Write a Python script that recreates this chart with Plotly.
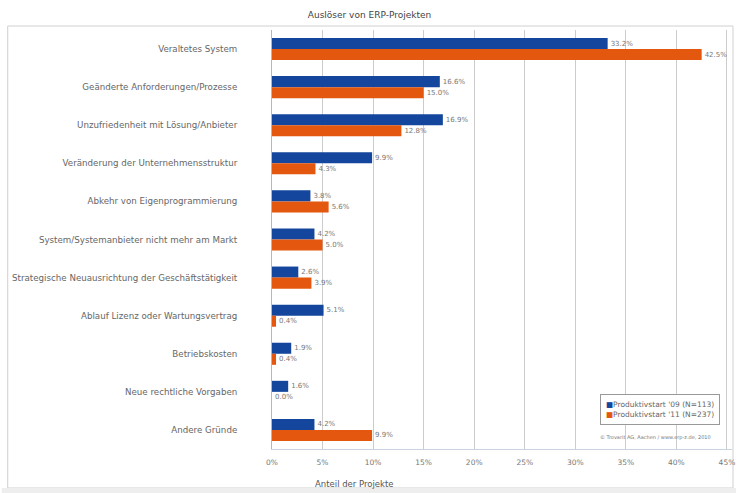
import plotly.graph_objects as go

categories = [
    "Veraltetes System",
    "Geänderte Anforderungen/Prozesse",
    "Unzufriedenheit mit Lösung/Anbieter",
    "Veränderung der Unternehmensstruktur",
    "Abkehr von Eigenprogrammierung",
    "System/Systemanbieter nicht mehr am Markt",
    "Strategische Neuausrichtung der Geschäftstätigkeit",
    "Ablauf Lizenz oder Wartungsvertrag",
    "Betriebskosten",
    "Neue rechtliche Vorgaben",
    "Andere Gründe",
]
series_09 = [33.2, 16.6, 16.9, 9.9, 3.8, 4.2, 2.6, 5.1, 1.9, 1.6, 4.2]
series_11 = [42.5, 15.0, 12.8, 4.3, 5.6, 5.0, 3.9, 0.4, 0.4, 0.0, 9.9]
name_09 = "Produktivstart '09 (N=113)"
name_11 = "Produktivstart '11 (N=237)"
tick_vals = [0, 5, 10, 15, 20, 25, 30, 35, 40, 45]
tick_text = [f"{v}%" for v in tick_vals]

COL_09 = "#14469E"
COL_11 = "#E4570F"

W, H = 739, 493
L, R, T, B = 272, 4, 30, 44
PW, PH = W - L - R, H - T - B


def px_x(x):
    return (x - L) / PW


def px_y(y):
    return (H - B - y) / PH


fig = go.Figure()
for vals, name, col in [(series_09, name_09, COL_09), (series_11, name_11, COL_11)]:
    fig.add_trace(go.Bar(
        y=categories, x=vals, orientation="h", name=name,
        marker=dict(color=col, line=dict(width=0)),
        text=[f"{v:.1f}%" for v in vals], textposition="outside",
        textfont=dict(size=7, color="#777777", family="DejaVu Sans"),
        cliponaxis=False, showlegend=False,
    ))

fig.update_layout(
    width=W, height=H,
    margin=dict(l=L, r=R, t=T, b=B),
    paper_bgcolor="white", plot_bgcolor="white",
    barmode="group", bargap=0.42, bargroupgap=0,
    font=dict(family="DejaVu Sans", color="#555555"),
    title=dict(text="Auslöser von ERP-Projekten", x=0.5, xanchor="center",
               y=1 - 15 / H, yanchor="middle",
               font=dict(size=9, color="#444444")),
    showlegend=False,
    xaxis=dict(range=[0, 45.5], tickmode="array", tickvals=tick_vals, ticktext=tick_text,
               showgrid=True, gridcolor="#cccccc", gridwidth=1,
               zeroline=False, showline=True, linecolor="#c8d4e0",
               tickfont=dict(size=7.5, color="#777777"), ticks="",
               ticklabelstandoff=6),
    yaxis=dict(autorange="reversed", showgrid=False, zeroline=False,
               showline=True, linecolor="#b0b8c8",
               tickfont=dict(size=8.7, color="#666666"), ticks="",
               ticklabelstandoff=32),
)

# legend (drawn as an annotation box)
legend_text = (f"<span style='color:{COL_09}'>■</span>{name_09}<br>"
               f"<span style='color:{COL_11}'>■</span>{name_11}")
fig.add_annotation(text=legend_text, xref="paper", yref="paper",
                   x=px_x(723), y=px_y(425), xanchor="right", yanchor="bottom",
                   align="left", showarrow=False, bgcolor="white",
                   bordercolor="#999999", borderwidth=1, borderpad=5,
                   font=dict(size=7.5, color="#666666"))

# x axis title
fig.add_annotation(text="Anteil der Projekte", xref="paper", yref="paper",
                   x=px_x(355), y=px_y(484), xanchor="center", yanchor="middle",
                   showarrow=False, font=dict(size=8.5, color="#555555"))
# copyright
fig.add_annotation(text="© Trovarit AG, Aachen / www.erp-z.de, 2010", xref="paper", yref="paper",
                   x=px_x(716), y=px_y(437), xanchor="right", yanchor="middle",
                   showarrow=False, font=dict(size=5, color="#777777"))

# outer frame
fig.add_shape(type="rect", xref="paper", yref="paper",
              x0=px_x(6), x1=px_x(736), y0=px_y(488), y1=px_y(26),
              line=dict(color="#d0d0d0", width=1), layer="below")
# bottom gray band
fig.add_shape(type="rect", xref="paper", yref="paper",
              x0=px_x(0), x1=px_x(W), y0=px_y(H), y1=px_y(488),
              fillcolor="#eeeeee", line=dict(width=0), layer="below")

fig.write_html("out.html", config={"displayModeBar": False},
               post_script="document.body.style.margin='0';")
